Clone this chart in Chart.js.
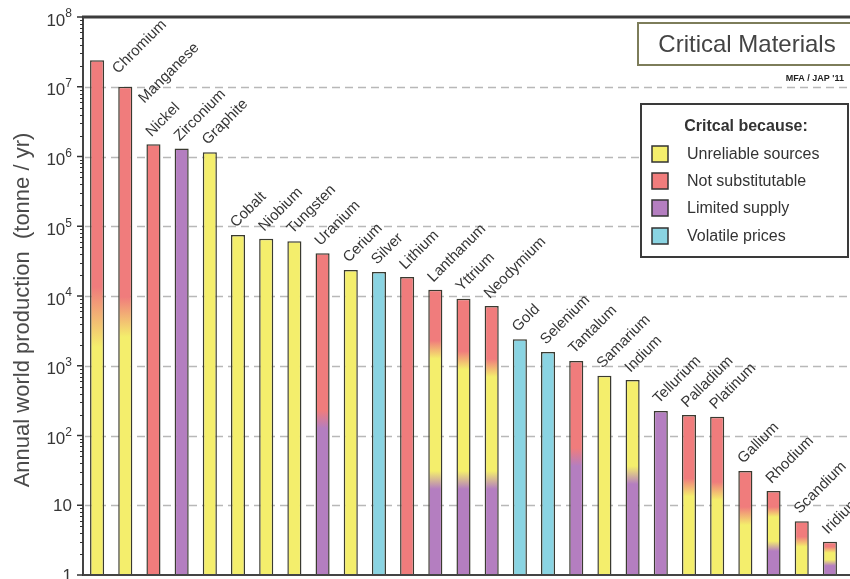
<!DOCTYPE html>
<html>
<head>
<meta charset="utf-8">
<script src="https://cdn.jsdelivr.net/npm/chart.js@4"></script>
<style>
  html, body { margin: 0; padding: 0; background: #ffffff; overflow: hidden; }
  #wrap { width: 850px; height: 579px; }
</style>
</head>
<body>
<div id="wrap"><canvas id="c" width="850" height="579"></canvas></div>
<script>
// ---------------- DATA ----------------
const materials = ['Chromium','Manganese','Nickel','Zirconium','Graphite','Cobalt','Niobium','Tungsten',
  'Uranium','Cerium','Silver','Lithium','Lanthanum','Yttrium','Neodymium','Gold','Selenium','Tantalum',
  'Samarium','Indium','Tellurium','Palladium','Platinum','Gallium','Rhodium','Scandium','Iridium'];

// annual world production, tonne / yr
const production = [2.4e7, 1.0e7, 1.5e6, 1.3e6, 1.15e6, 7.5e4, 6.6e4, 6.1e4,
  4.1e4, 2.35e4, 2.2e4, 1.87e4, 1.23e4, 9.1e3, 7.2e3, 2.4e3, 1.58e3, 1.17e3,
  720, 625, 225, 196, 185, 31, 16, 5.9, 3.0];

const criteria = ['Unreliable sources', 'Not substitutable', 'Limited supply', 'Volatile prices'];

// criteria shown in each bar, bottom to top (index into criteria)
const bandCriteria = [[0,1],[0,1],[1],[2],[0],[0],[0],[0],
  [2,1],[0],[3],[1],[2,0,1],[2,0,1],[2,0,1],[3],[3],[2,1],
  [0],[2,0],[2],[0,1],[0,1],[0,1],[2,0,1],[0,1],[2,0,1]];

// production value at which each bar switches to its next criterion
const bandBreaks = [[5000],[5000],[],[],[],[],[],[],
  [170],[],[],[],[23,1700],[23,1200],[23,930],[],[],[49],
  [],[27],[],[18],[16],[7],[2.6,8],[3.0],[1.5,2.3]];

const legendTitle = 'Critcal because:';
const chartTitle = 'Critical Materials';
const creditText = "MFA / JAP '11";
const yAxisTitle = 'Annual world production  (tonne / yr)';

const yTickValues = [1, 10, 1e2, 1e3, 1e4, 1e5, 1e6, 1e7, 1e8];
const yTickBase   = ['1', '10', '10', '10', '10', '10', '10', '10', '10'];
const yTickExp    = ['', '', '2', '3', '4', '5', '6', '7', '8'];

// ---------------- STYLE ----------------
const critColors = ['#F4EE6C', '#F07C7C', '#B47EC0', '#8AD4E2'];
const fadeHalfPx = {0: 30, 1: 20, 24: 5, 25: 5, 26: 3};
const labelNudge = {0: [23, 21], 1: [21, 24]};
const FONT = '"Liberation Sans", Arial, Helvetica, sans-serif';
const TXT = '#363636';

function barFill(ctx) {
  const chart = ctx.chart;
  const area = chart.chartArea;
  const i = ctx.dataIndex;
  const cols = bandCriteria[i].map(k => critColors[k]);
  if (!area || cols.length === 1 || !chart.scales.y) return cols[0];
  const ys = chart.scales.y;
  const y0 = area.bottom, y1 = area.top, H = y0 - y1;
  const g = chart.ctx.createLinearGradient(0, y0, 0, y1);
  const f = (fadeHalfPx[i] !== undefined ? fadeHalfPx[i] : 9) / H;
  const cl = t => Math.max(0, Math.min(1, t));
  g.addColorStop(0, cols[0]);
  bandBreaks[i].forEach((b, k) => {
    const t = (y0 - ys.getPixelForValue(b)) / H;
    g.addColorStop(cl(t - f), cols[k]);
    g.addColorStop(cl(t + f), cols[k + 1]);
  });
  g.addColorStop(1, cols[cols.length - 1]);
  return g;
}

const decor = {
  id: 'decor',
  beforeDatasetsDraw(chart) {
    const c = chart.ctx, a = chart.chartArea, ys = chart.scales.y;
    c.save();
    c.strokeStyle = '#b8b8b8';
    c.lineWidth = 1.5;
    c.setLineDash([8, 5]);
    yTickValues.forEach(v => {
      if (v === 1 || v === 1e8) return;
      const y = Math.round(ys.getPixelForValue(v)) + 0.5;
      c.beginPath(); c.moveTo(a.left + 2, y); c.lineTo(chart.width, y); c.stroke();
    });
    c.restore();
  },
  afterDatasetsDraw(chart) {
    const c = chart.ctx;
    const meta = chart.getDatasetMeta(0);
    c.save();
    c.font = '15px ' + FONT;
    c.fillStyle = TXT;
    c.textAlign = 'left';
    c.textBaseline = 'alphabetic';
    meta.data.forEach((bar, i) => {
      const n = labelNudge[i] || [0, 0];
      c.save();
      c.translate(bar.x - 2 + n[0], bar.y - 7 + n[1]);
      c.rotate(-Math.PI / 4);
      c.fillText(materials[i], 0, 0);
      c.restore();
    });
    c.restore();
  },
  afterDraw(chart) {
    const c = chart.ctx, a = chart.chartArea, ys = chart.scales.y;
    c.save();
    // frame lines
    c.strokeStyle = '#3c3c3c';
    c.lineWidth = 3;
    c.beginPath(); c.moveTo(a.left - 1, a.top); c.lineTo(chart.width, a.top); c.stroke();
    c.lineWidth = 2;
    c.strokeStyle = '#444';
    c.beginPath(); c.moveTo(a.left - 1, a.bottom); c.lineTo(chart.width, a.bottom); c.stroke();
    c.beginPath(); c.moveTo(a.left, a.top); c.lineTo(a.left, a.bottom); c.stroke();
    // ticks
    c.strokeStyle = '#333';
    yTickValues.forEach(v => {
      const y = ys.getPixelForValue(v);
      c.lineWidth = 1.5;
      c.beginPath(); c.moveTo(a.left - 6, y); c.lineTo(a.left, y); c.stroke();
      if (v < 1e8) {
        c.lineWidth = 1;
        for (let k = 2; k <= 9; k++) {
          const ym = Math.round(ys.getPixelForValue(v * k)) + 0.5;
          c.beginPath(); c.moveTo(a.left - 3, ym); c.lineTo(a.left, ym); c.stroke();
        }
      }
    });
    // tick labels
    c.fillStyle = TXT;
    c.textBaseline = 'middle';
    c.textAlign = 'right';
    yTickValues.forEach((v, i) => {
      const y = ys.getPixelForValue(v);
      const xr = a.left - 11;
      if (yTickExp[i]) {
        c.font = '12px ' + FONT;
        const ew = c.measureText(yTickExp[i]).width;
        c.fillText(yTickExp[i], xr, y - 3);
        c.font = '17px ' + FONT;
        c.fillText(yTickBase[i], xr - ew, y + 4);
      } else {
        c.font = '17px ' + FONT;
        c.fillText(yTickBase[i], xr, y + 1);
      }
    });
    // y axis title
    c.save();
    c.translate(23, 310);
    c.rotate(-Math.PI / 2);
    c.textAlign = 'center';
    c.textBaseline = 'middle';
    c.font = '22px ' + FONT;
    c.fillStyle = '#4a4a4a';
    c.fillText(yAxisTitle, 0, 0);
    c.restore();
    // title box
    c.fillStyle = '#fff';
    c.fillRect(638, 23, 230, 42);
    c.strokeStyle = '#7d7d5a';
    c.lineWidth = 2;
    c.strokeRect(638, 23, 230, 42);
    c.fillStyle = '#444';
    c.textAlign = 'center';
    c.textBaseline = 'middle';
    c.font = '24px ' + FONT;
    c.fillText(chartTitle, 747, 45);
    // credit
    c.font = 'bold 9px ' + FONT;
    c.textAlign = 'right';
    c.fillStyle = '#222';
    c.fillText(creditText, 844, 79);
    // legend box
    c.fillStyle = '#fff';
    c.fillRect(641, 104, 207, 153);
    c.strokeStyle = '#3a3a3a';
    c.lineWidth = 2;
    c.strokeRect(641, 104, 207, 153);
    c.fillStyle = '#333';
    c.textAlign = 'center';
    c.font = 'bold 16px ' + FONT;
    c.fillText(legendTitle, 746, 127);
    c.textAlign = 'left';
    c.font = '16px ' + FONT;
    const rows = [154, 181, 208, 236];
    criteria.forEach((name, k) => {
      const y = rows[k];
      c.fillStyle = critColors[k];
      c.fillRect(652, y - 8, 16, 16);
      c.strokeStyle = '#333';
      c.lineWidth = 1.5;
      c.strokeRect(652, y - 8, 16, 16);
      c.fillStyle = '#333';
      c.fillText(name, 687, y + 1);
    });
    c.restore();
  }
};

new Chart(document.getElementById('c'), {
  type: 'bar',
  data: {
    labels: materials,
    datasets: [{
      data: production,
      backgroundColor: barFill,
      borderColor: '#3a3a30',
      borderWidth: 1.5,
      borderSkipped: 'start',
      barPercentage: 0.5,
      categoryPercentage: 1.0
    }]
  },
  options: {
    responsive: false,
    animation: false,
    layout: { padding: { top: 17, right: 6, bottom: 4, left: 0 } },
    plugins: { legend: { display: false }, tooltip: { enabled: false } },
    scales: {
      x: { display: false },
      y: {
        type: 'logarithmic',
        min: 1,
        max: 1e8,
        afterFit(s) { s.width = 83; },
        afterBuildTicks(s) { s.ticks = yTickValues.map(v => ({ value: v })); },
        ticks: { display: false },
        grid: { display: false },
        border: { display: false }
      }
    }
  },
  plugins: [decor]
});
</script>
</body>
</html>
